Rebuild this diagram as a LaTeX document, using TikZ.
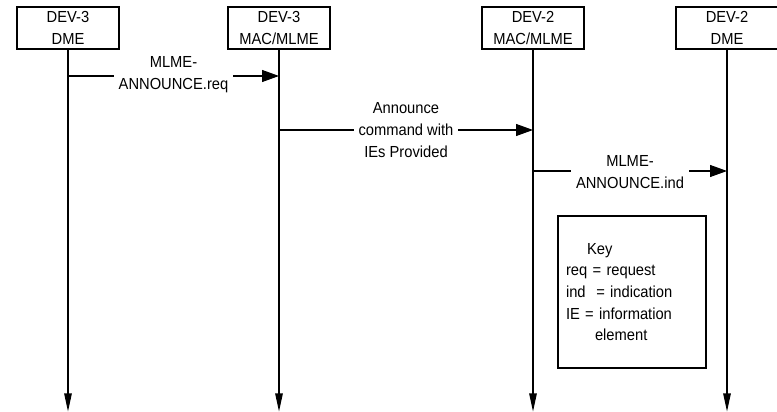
\documentclass[tikz,border=0pt]{standalone}
\usepackage{fontspec}
\setmainfont{Liberation Sans}[FakeStretch=0.92]
\usetikzlibrary{positioning,arrows.meta}

\begin{document}
\begin{tikzpicture}[
  font=\fontsize{9.1}{12.3}\selectfont,
  line width=0.6pt,
  ent/.style={draw, align=center, minimum width=2.04cm, minimum height=0.84cm, inner sep=1pt},
  life/.style={-{Triangle[length=0.36cm,width=0.15cm]}},
  msg/.style={-{Triangle[length=0.34cm,width=0.24cm]}},
  lbl/.style={fill=white, align=center, inner xsep=0.1cm, inner ysep=1pt},
  keybox/.style={draw, align=left, text width=2.64cm, minimum height=3.04cm, inner sep=0.16cm}
]
  \useasboundingbox (0,0) rectangle (15.54,-8.24);
  \node[ent] (a) at (1.36,-0.56) {DEV-3\\DME};
  \node[ent] (b) at (5.58,-0.56) {DEV-3\\MAC/MLME};
  \node[ent] (c) at (10.66,-0.56) {DEV-2\\MAC/MLME};
  \node[ent] (d) at (14.54,-0.56) {DEV-2\\DME};
  \coordinate (a0) at (1.36,-8.23);
  \coordinate (b0) at (5.58,-8.23);
  \coordinate (c0) at (10.66,-8.23);
  \coordinate (d0) at (14.54,-8.23);
  \draw[life] (a) -- (a0);
  \draw[life] (b) -- (b0);
  \draw[life] (c) -- (c0);
  \draw[life] (d) -- (d0);
  \coordinate (a1) at (1.36,-1.52);
  \coordinate (b1) at (5.58,-1.52);
  \coordinate (b2) at (5.58,-2.6);
  \coordinate (c2) at (10.66,-2.6);
  \coordinate (c3) at (10.66,-3.42);
  \coordinate (d3) at (14.54,-3.42);
  \draw[msg] (a1) -- node[lbl, yshift=0.03cm] (l1) {MLME-\\ANNOUNCE.req} (b1);
  \draw[msg] (b2) -- node[lbl] (l2) {Announce\\command with\\IEs Provided} (c2);
  \draw[msg] (c3) -- node[lbl, yshift=-0.02cm] (l3) {MLME-\\ANNOUNCE.ind} (d3);
  \node[keybox] (k) at (12.64,-5.84) {\hspace*{0.42cm}Key\\req = request\\ind\ \ = indication\\IE = information\\\hspace*{0.58cm}element};
\end{tikzpicture}
\end{document}
